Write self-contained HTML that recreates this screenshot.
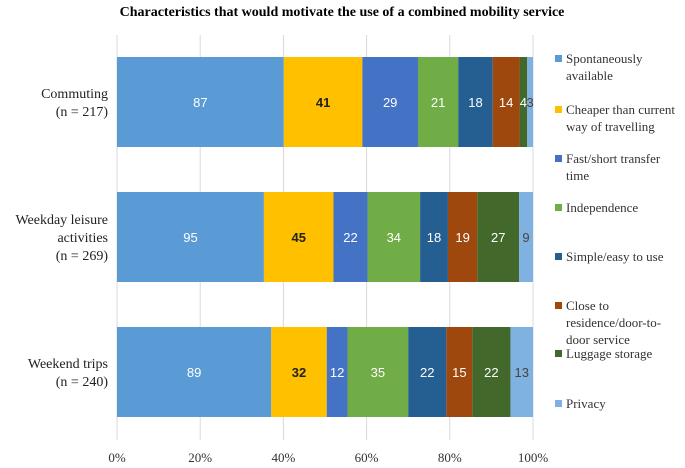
<!DOCTYPE html>
<html><head><meta charset="utf-8"><style>
body{margin:0;background:#fff;width:685px;height:463px;overflow:hidden;font-family:"Liberation Serif",serif}
</style></head><body>
<svg id="c" width="685" height="463">
<text x="342" y="16" text-anchor="middle" font-weight="bold" font-size="14">Characteristics that would motivate the use of a combined mobility service</text>
</svg>
<script>
const categories=["Commuting|(n = 217)","Weekday leisure|activities|(n = 269)","Weekend trips|(n = 240)"];
const seriesNames=["Spontaneously|available","Cheaper than current|way of travelling","Fast/short transfer|time","Independence","Simple/easy to use","Close to|residence/door-to-|door service","Luggage storage","Privacy"];
const spontaneous=[87,95,89];
const cheaper=[41,45,32];
const fast=[29,22,12];
const independence=[21,34,35];
const simple=[18,18,22];
const close=[14,19,15];
const luggage=[4,27,22];
const privacy=[3,9,13];
const ticks=[0,20,40,60,80,100];
const series=[spontaneous,cheaper,fast,independence,simple,close,luggage,privacy];
const colors=["#5B9BD5","#FFC000","#4472C4","#70AD47","#255E91","#9E480E","#43682B","#7FB2E0"];
const labelColors=["#fff","#222","#fff","#fff","#fff","#fff","#fff","#444"];
const svg=document.getElementById('c');
const NS="http://www.w3.org/2000/svg";
const x0=117,x1=533,barTops=[57,192,327],barH=90;
const xs=p=>x0+(x1-x0)*p/100;
function mk(t,a){const e=document.createElementNS(NS,t);for(const k in a)e.setAttribute(k,a[k]);svg.appendChild(e);return e;}
ticks.forEach(t=>{
 const l=mk('line',{x1:xs(t),x2:xs(t),y1:35,y2:440,stroke:'#d9d9d9','stroke-width':1});
 
 
 const tx=mk('text',{x:xs(t),y:462,'text-anchor':'middle','font-size':13,fill:'#333'});
 tx.textContent=t+'%';
 
 
});
categories.forEach((c,i)=>{
 const total=series.reduce((s,a)=>s+a[i],0);
 let acc=0;const y=barTops[i];
 series.forEach((a,j)=>{
  const v=a[i];const xa=xs(acc/total*100),xb=xs((acc+v)/total*100);
  const r=mk('rect',{x:xa,y:y,width:xb-xa,height:barH,fill:colors[j]});
  
  
  const t=mk('text',{x:(xa+xb)/2,y:y+barH/2+5,'text-anchor':'middle','font-size':13,fill:labelColors[j],'font-family':'"Liberation Sans",sans-serif','font-weight':j==1?'bold':'normal'});
  t.textContent=v;
  
  
  acc+=v;
 });
 const lines=c.split('|');
 const t=mk('text',{'text-anchor':'end','font-size':14,fill:'#222'});
 
 
 lines.forEach((s,k)=>{const ts=document.createElementNS(NS,'tspan');ts.setAttribute('x',108);ts.setAttribute('y',y+barH/2+5-(lines.length-1)*9+k*18);ts.textContent=s;t.appendChild(ts);});
});
const legY=[63,114,163,212,261,310,358,408];
seriesNames.forEach((n,j)=>{
 const r=mk('rect',{x:555,y:legY[j]-8,width:7,height:7,fill:colors[j]});
 
 
 const t=mk('text',{'font-size':13,fill:'#333'});
 
 
 n.split('|').forEach((s,k)=>{const ts=document.createElementNS(NS,'tspan');ts.setAttribute('x',566);ts.setAttribute('y',legY[j]+k*17);ts.textContent=s;t.appendChild(ts);});
});
</script>
</body></html>
